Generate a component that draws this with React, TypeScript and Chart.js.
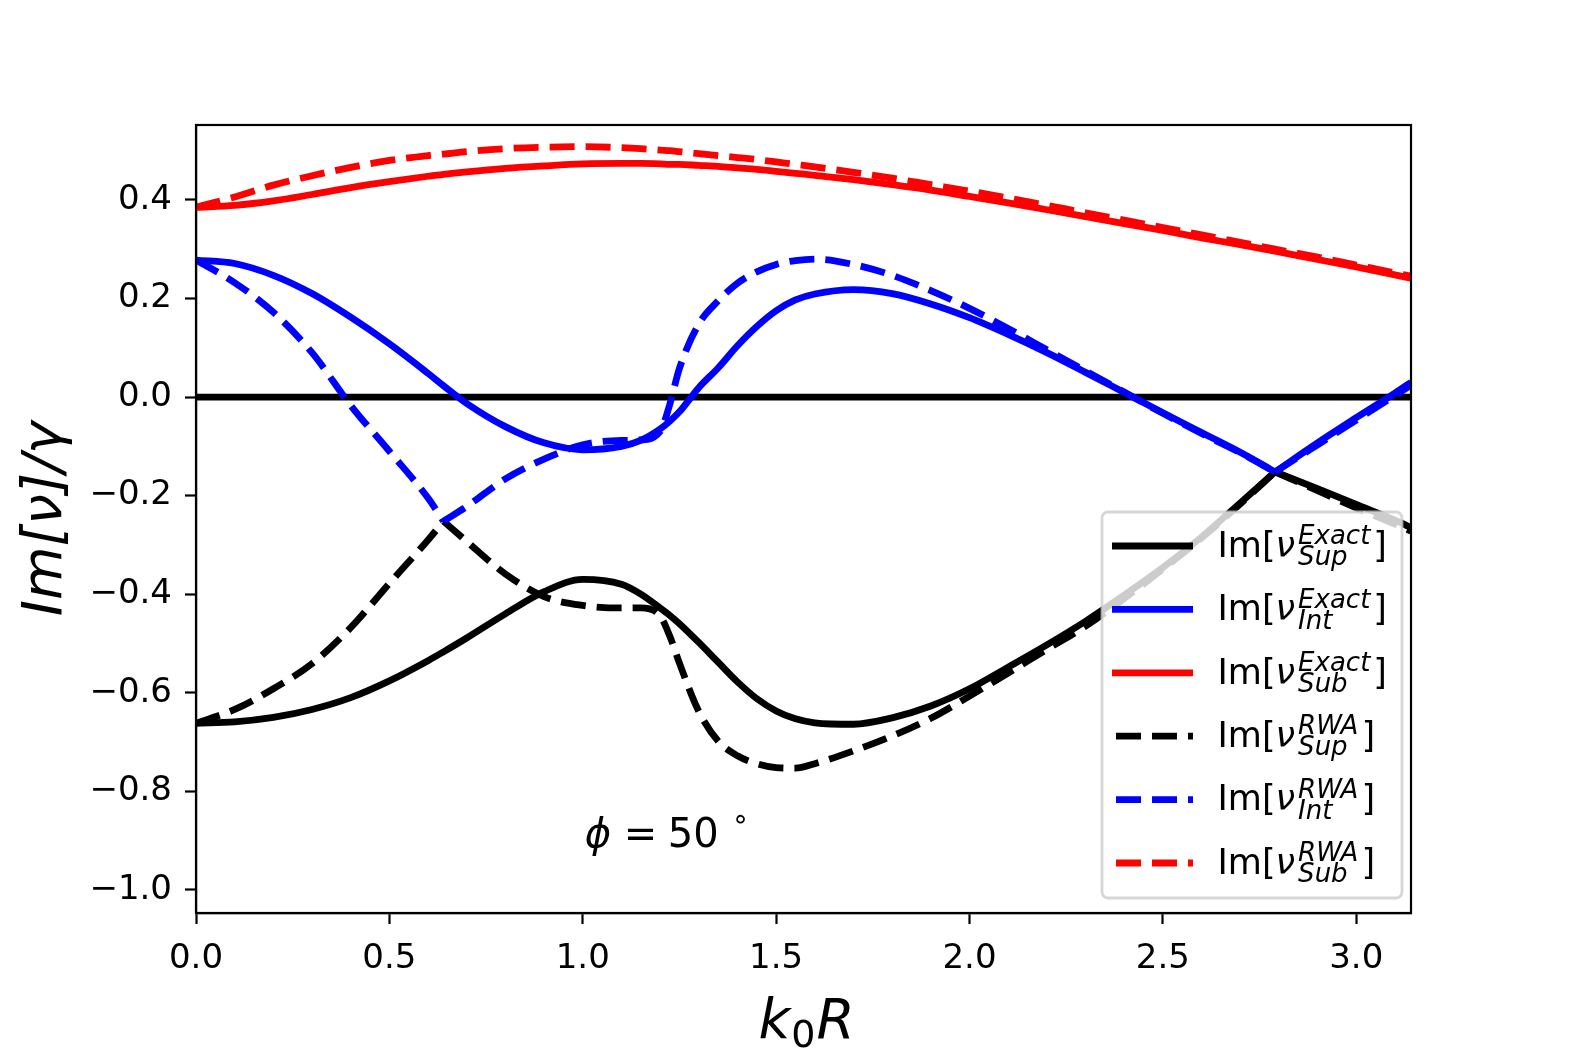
import React, { useEffect, useRef } from 'react';
import { Chart, registerables } from 'chart.js';

Chart.register(...registerables);

const FONT = "'DejaVu Sans'";

// k0R sample points (denser where the curves bend sharply)
const kR = [0, 0.1, 0.2, 0.3, 0.4, 0.5, 0.6, 0.64, 0.7, 0.8, 0.9, 1.0, 1.1, 1.15, 1.2, 1.225, 1.25, 1.3, 1.35, 1.4,
  1.45, 1.5, 1.55, 1.6, 1.7, 1.8, 1.9, 2.0, 2.1, 2.2, 2.3, 2.4, 2.5, 2.6, 2.7, 2.79, 2.9, 3.0, 3.1, 3.1416];

const supExact = [-0.662, -0.659, -0.65, -0.634, -0.61, -0.576, -0.535, -0.517, -0.489, -0.44, -0.395, -0.37, -0.38, -0.4, -0.428, -0.443, -0.46, -0.498, -0.538, -0.578,
  -0.612, -0.637, -0.653, -0.661, -0.664, -0.651, -0.627, -0.592, -0.548, -0.503, -0.455, -0.402, -0.346, -0.284, -0.215, -0.152, -0.186, -0.218, -0.25, -0.265];
const intExact = [0.278, 0.271, 0.247, 0.21, 0.162, 0.108, 0.048, 0.023, -0.013, -0.06, -0.093, -0.107, -0.1, -0.088, -0.065, -0.049, -0.03, 0.019, 0.059, 0.104,
  0.143, 0.175, 0.197, 0.209, 0.218, 0.21, 0.189, 0.161, 0.127, 0.09, 0.05, 0.009, -0.032, -0.072, -0.112, -0.152, -0.093, -0.042, 0.008, 0.03];
const subExact = [0.385, 0.389, 0.398, 0.411, 0.425, 0.437, 0.448, 0.452, 0.457, 0.464, 0.469, 0.473, 0.474, 0.474, 0.473, 0.472, 0.472, 0.47, 0.468, 0.465,
  0.462, 0.458, 0.454, 0.45, 0.441, 0.431, 0.42, 0.407, 0.394, 0.38, 0.366, 0.352, 0.338, 0.323, 0.309, 0.296, 0.279, 0.264, 0.248, 0.241];
const supRwa = [-0.662, -0.634, -0.592, -0.541, -0.468, -0.378, -0.29, -0.252, -0.293, -0.359, -0.405, -0.423, -0.428, -0.428, -0.444, -0.485, -0.54, -0.638, -0.698, -0.728,
  -0.744, -0.752, -0.753, -0.744, -0.718, -0.688, -0.652, -0.607, -0.56, -0.512, -0.465, -0.409, -0.349, -0.286, -0.217, -0.152, -0.19, -0.225, -0.258, -0.272];
const intRwa = [0.278, 0.232, 0.172, 0.09, -0.017, -0.11, -0.205, -0.252, -0.222, -0.166, -0.126, -0.097, -0.088, -0.087, -0.07, -0.015, 0.058, 0.148, 0.195, 0.231,
  0.254, 0.269, 0.277, 0.28, 0.269, 0.247, 0.216, 0.18, 0.139, 0.096, 0.053, 0.01, -0.033, -0.074, -0.113, -0.152, -0.097, -0.047, 0.003, 0.024];
const subRwa = [0.385, 0.406, 0.43, 0.449, 0.466, 0.48, 0.49, 0.493, 0.498, 0.504, 0.507, 0.508, 0.506, 0.504, 0.501, 0.5, 0.498, 0.494, 0.49, 0.486,
  0.482, 0.477, 0.472, 0.467, 0.456, 0.444, 0.431, 0.418, 0.404, 0.389, 0.374, 0.359, 0.344, 0.329, 0.314, 0.3, 0.284, 0.268, 0.252, 0.245];

// where branches meet in a sharp corner
const cornersSolid = [2.79];
const cornersRwa = [0.64, 2.79];

const zeroK = [0, Math.PI];
const zeroY = [0, 0];

const legendSup = ['Exact', 'Exact', 'Exact', 'RWA', 'RWA', 'RWA'];
const legendSub = ['Sup', 'Int', 'Sub', 'Sup', 'Int', 'Sub'];

const LW = 6.8;
const DASH = [25, 11];

const series = [
  { ys: supExact, color: '#000000', dash: [] as number[], corners: cornersSolid },
  { ys: intExact, color: '#0000ff', dash: [] as number[], corners: cornersSolid },
  { ys: subExact, color: '#ff0000', dash: [] as number[], corners: [] as number[] },
  { ys: supRwa, color: '#000000', dash: DASH, corners: cornersRwa },
  { ys: intRwa, color: '#0000ff', dash: DASH, corners: cornersRwa },
  { ys: subRwa, color: '#ff0000', dash: DASH, corners: [] as number[] },
];

const fmt = (v: number) => (v < -1e-9 ? '\u2212' : '') + Math.abs(v).toFixed(1);

// break the spline at a corner so both sides meet in a point
const toPoints = (ys: number[], corners: number[]) => {
  const pts: any[] = [];
  kR.forEach((k, i) => {
    pts.push({ x: k, y: ys[i] });
    if (corners.includes(k)) {
      pts.push({ x: k, y: null });
      pts.push({ x: k, y: ys[i] });
    }
  });
  return pts;
};

const framePlugin = {
  id: 'frame',
  afterDatasetsDraw(chart: any) {
    const { ctx, chartArea: a } = chart;
    ctx.save();
    ctx.strokeStyle = '#000';
    ctx.lineWidth = 2.2;
    ctx.strokeRect(a.left, a.top, a.right - a.left, a.bottom - a.top);

    // phi = 50 degrees annotation
    const px = chart.scales.x.getPixelForValue(1.005);
    const py = chart.scales.y.getPixelForValue(-0.913);
    ctx.fillStyle = '#000';
    ctx.textBaseline = 'alphabetic';
    ctx.textAlign = 'left';
    ctx.font = `italic 40px ${FONT}`;
    ctx.fillText('\u03d5', px, py);
    ctx.font = `40px ${FONT}`;
    ctx.fillText('=', px + 39, py);
    ctx.fillText('50', px + 83, py);
    ctx.font = `28px ${FONT}`;
    ctx.fillText('\u2218', px + 147, py - 19);

    // x axis label k_0 R
    const cx = (a.left + a.right) / 2 + 3;
    const by = chart.height - 14;
    ctx.font = `italic 55px ${FONT}`;
    const wk = ctx.measureText('k').width;
    const wr = ctx.measureText('R').width;
    ctx.font = `38px ${FONT}`;
    const w0 = ctx.measureText('0').width;
    let x = cx - (wk + w0 + wr + 2) / 2;
    ctx.font = `italic 55px ${FONT}`;
    ctx.fillText('k', x, by);
    x += wk + 1;
    ctx.font = `38px ${FONT}`;
    ctx.fillText('0', x, by + 9);
    x += w0 + 1;
    ctx.font = `italic 55px ${FONT}`;
    ctx.fillText('R', x, by);
    ctx.restore();
  },
};

const legendPlugin = {
  id: 'texLegend',
  afterDraw(chart: any) {
    const { ctx, chartArea: a } = chart;
    const w = 300, h = 386;
    const left = a.right - 9 - w;
    const top = a.bottom - 15 - h;
    ctx.save();
    ctx.beginPath();
    ctx.roundRect(left, top, w, h, 6);
    ctx.fillStyle = 'rgba(255,255,255,0.8)';
    ctx.fill();
    ctx.strokeStyle = 'rgba(204,204,204,0.8)';
    ctx.lineWidth = 2.8;
    ctx.stroke();

    chart.data.datasets.slice(1).forEach((ds: any, i: number) => {
      const cy = top + 34 + i * 63.4;
      ctx.beginPath();
      ctx.setLineDash(ds.borderDash || []);
      ctx.lineDashOffset = -4;
      ctx.strokeStyle = ds.borderColor;
      ctx.lineWidth = LW;
      ctx.lineCap = 'butt';
      ctx.moveTo(left + 10, cy);
      ctx.lineTo(left + 91, cy);
      ctx.stroke();
      ctx.setLineDash([]);

      const base = cy + 10.7;
      let x = left + 115.5;
      ctx.fillStyle = '#000';
      ctx.textBaseline = 'alphabetic';
      ctx.textAlign = 'left';
      ctx.font = `35px ${FONT}`;
      ctx.fillText('Im[', x, base);
      x += ctx.measureText('Im[').width;
      ctx.font = `italic 35px ${FONT}`;
      ctx.fillText('\u03bd', x, base);
      x += ctx.measureText('\u03bd').width + 3;
      ctx.font = `italic 26px ${FONT}`;
      ctx.fillText(legendSup[i], x, base - 12.5);
      ctx.fillText(legendSub[i], x, base + 8.5);
      x += Math.max(ctx.measureText(legendSup[i]).width, ctx.measureText(legendSub[i]).width) + 3;
      ctx.font = `35px ${FONT}`;
      ctx.fillText(']', x, base);
    });
    ctx.restore();
  },
};

export default function App() {
  const canvasRef = useRef<HTMLCanvasElement | null>(null);

  useEffect(() => {
    document.body.style.margin = '0';
    document.body.style.overflow = 'hidden';
    const ctx = canvasRef.current!.getContext('2d');
    const datasets: any[] = [
      {
        data: zeroK.map((k, i) => ({ x: k, y: zeroY[i] })),
        borderColor: '#000000', borderWidth: LW, order: 100,
      },
      ...series.map((s, j) => ({
        data: toPoints(s.ys, s.corners),
        borderColor: s.color,
        borderWidth: LW,
        borderDash: s.dash,
        order: 50 - j,
      })),
    ];
    datasets.forEach((d) => {
      d.pointRadius = 0;
      d.fill = false;
      d.cubicInterpolationMode = 'monotone';
      d.borderCapStyle = 'butt';
      d.spanGaps = false;
      d.clip = 0;
    });

    const chart = new Chart(ctx!, {
      type: 'line',
      data: { datasets },
      options: {
        animation: false,
        responsive: true,
        maintainAspectRatio: false,
        layout: { padding: { left: 0, top: 125, right: 167, bottom: 0 } },
        plugins: { legend: { display: false }, tooltip: { enabled: false } },
        scales: {
          x: {
            type: 'linear',
            min: 0,
            max: Math.PI,
            afterFit: (s: any) => { s.height = 139; },
            ticks: {
              stepSize: 0.5, includeBounds: false, color: '#000', padding: 15,
              font: { family: FONT, size: 34 }, callback: (v: any) => fmt(Number(v)), maxRotation: 0,
            },
            grid: { drawOnChartArea: false, tickLength: 11, tickWidth: 2.2, tickColor: '#000' },
            border: { display: true, color: '#000', width: 2.2 },
            title: { display: false },
          },
          y: {
            type: 'linear',
            min: -1.047,
            max: 0.552,
            afterFit: (s: any) => { s.width = 196; },
            ticks: {
              stepSize: 0.2, includeBounds: false, color: '#000', padding: 13,
              font: { family: FONT, size: 34 }, callback: (v: any) => fmt(Number(v)),
            },
            grid: { drawOnChartArea: false, tickLength: 11, tickWidth: 2.2, tickColor: '#000' },
            border: { display: true, color: '#000', width: 2.2 },
            title: {
              display: true, text: 'Im[\u03bd]/\u03b3', color: '#000',
              font: { family: FONT, size: 55, style: 'italic' }, padding: { top: 14, bottom: 0 },
            },
          },
        },
      },
      plugins: [framePlugin, legendPlugin],
    });
    return () => { chart.destroy(); };
  }, []);

  return (
    <div style={{ position: 'fixed', left: 0, top: 0, width: 1578, height: 1052, background: '#fff' }}>
      <canvas ref={canvasRef}></canvas>
    </div>
  );
}
